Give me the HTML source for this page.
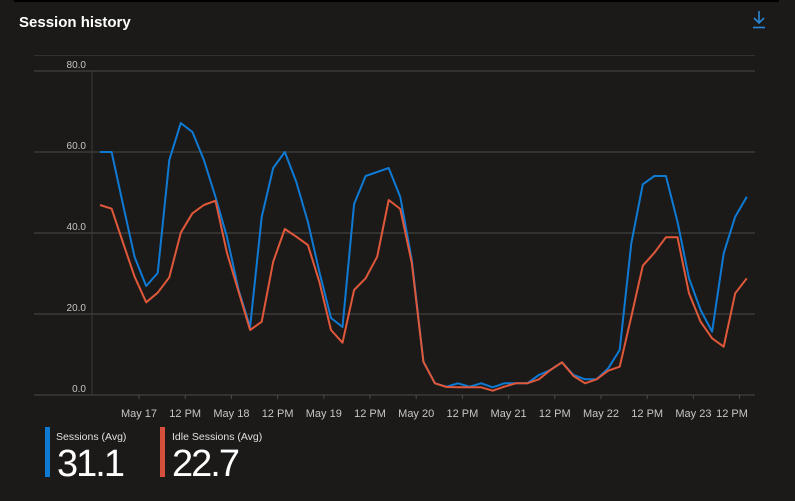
<!DOCTYPE html>
<html><head><meta charset="utf-8"><style>
html,body{margin:0;padding:0;background:#1b1a19;width:795px;height:501px;overflow:hidden}
svg{display:block}
text{font-family:"Liberation Sans",sans-serif}
</style></head><body>
<svg width="795" height="501" viewBox="0 0 795 501">
<rect width="795" height="501" fill="#1b1a19"/>
<rect x="14" y="0" width="765" height="2" fill="#000"/>
<text x="19" y="27" font-size="15" font-weight="bold" fill="#ffffff">Session history</text>
<g stroke="#2b88d8" stroke-width="1.6" fill="none">
<line x1="759" y1="11" x2="759" y2="23"/>
<polyline points="754,18 759,23 764,18"/>
<line x1="753" y1="27.5" x2="765" y2="27.5"/>
</g>
<g stroke="#3b3a39" stroke-width="1">
<line x1="34" y1="55.5" x2="755" y2="55.5" stroke="#323130"/>
<line x1="34" y1="71" x2="755" y2="71" stroke-width="1.4"/>
<line x1="34" y1="152" x2="755" y2="152" stroke-width="1.4"/>
<line x1="34" y1="233" x2="755" y2="233" stroke-width="1.4"/>
<line x1="34" y1="314" x2="755" y2="314" stroke-width="1.4"/>
<line x1="92" y1="71" x2="92" y2="395"/>
<line x1="34" y1="395" x2="755" y2="395" stroke-width="1.6"/>
</g>
<g stroke="#4a4948" stroke-width="1">
<line x1="139" y1="395" x2="139" y2="399"/><line x1="185.2" y1="395" x2="185.2" y2="399"/><line x1="231.4" y1="395" x2="231.4" y2="399"/><line x1="277.6" y1="395" x2="277.6" y2="399"/><line x1="323.8" y1="395" x2="323.8" y2="399"/><line x1="370" y1="395" x2="370" y2="399"/><line x1="416.2" y1="395" x2="416.2" y2="399"/><line x1="462.4" y1="395" x2="462.4" y2="399"/><line x1="508.6" y1="395" x2="508.6" y2="399"/><line x1="554.8" y1="395" x2="554.8" y2="399"/><line x1="601" y1="395" x2="601" y2="399"/><line x1="647.2" y1="395" x2="647.2" y2="399"/><line x1="693.4" y1="395" x2="693.4" y2="399"/><line x1="739.6" y1="395" x2="739.6" y2="399"/>
</g>
<g font-size="10" fill="#c8c6c4" text-anchor="end">
<text x="86" y="68">80.0</text>
<text x="86" y="149">60.0</text>
<text x="86" y="230">40.0</text>
<text x="86" y="311">20.0</text>
<text x="86" y="392">0.0</text>
</g>
<g font-size="11" fill="#c8c6c4" text-anchor="middle">
<text x="139" y="417">May 17</text><text x="185.2" y="417">12 PM</text><text x="231.4" y="417">May 18</text><text x="277.6" y="417">12 PM</text><text x="323.8" y="417">May 19</text><text x="370" y="417">12 PM</text><text x="416.2" y="417">May 20</text><text x="462.4" y="417">12 PM</text><text x="508.6" y="417">May 21</text><text x="554.8" y="417">12 PM</text><text x="601" y="417">May 22</text><text x="647.2" y="417">12 PM</text><text x="693.4" y="417">May 23</text><text x="732" y="417">12 PM</text>
</g>
<polyline fill="none" stroke="#0f7ad4" stroke-width="2" stroke-linejoin="round" points="100,152 111.6,152 123.1,205 134.6,257 146.2,286 157.7,273 169.3,160 180.8,123 192.4,132 203.9,160 215.5,197 227,237 238.6,290 250.1,327 261.7,217 273.2,168 284.8,152 296.3,182 307.9,222 319.4,272 331,318 342.5,327 354.1,204 365.6,176 377.2,172 388.7,168 400.3,197 411.8,260 423.4,361.7 434.9,383.3 446.5,386.7 458,383.3 469.6,386.7 481.1,383.3 492.7,387.3 504.2,383.3 515.8,383.3 527.3,383.3 538.9,375 550.4,370 562,362.3 573.5,375 585.1,379.3 596.6,379.3 608.2,368.3 619.7,350 631.3,243.3 642.8,184.3 654.4,176 665.9,176 677.5,221.7 689,278.3 700.6,310 712.1,331.7 723.7,253.3 735.2,216.7 746.8,196.7"/>
<polyline fill="none" stroke="#e0583a" stroke-width="2" stroke-linejoin="round" points="100,205 111.6,208.7 123.1,243 134.6,276.7 146.2,302.3 157.7,292.7 169.3,277.3 180.8,232.7 192.4,213.3 203.9,205 215.5,200.7 227,253 238.6,291.7 250.1,330 261.7,321.7 273.2,261.7 284.8,229 296.3,236.7 307.9,245 319.4,282 331,330 342.5,342.7 354.1,290 365.6,278.3 377.2,256.7 388.7,200 400.3,209 411.8,263 423.4,361.7 434.9,383.3 446.5,387 458,387.3 469.6,387.3 481.1,387.3 492.7,390.7 504.2,386.7 515.8,383.3 527.3,383.3 538.9,379.3 550.4,370 562,362.3 573.5,376 585.1,383.3 596.6,379.3 608.2,370.7 619.7,366.7 631.3,316.7 642.8,265.7 654.4,252.7 665.9,237.3 677.5,237.3 689,293.3 700.6,321.7 712.1,338.3 723.7,346.7 735.2,293.3 746.8,278.3"/>
<rect x="45" y="427" width="5" height="50" fill="#0f7ad4"/>
<rect x="160" y="427" width="5" height="50" fill="#d4503a"/>
<text x="56" y="440" font-size="10.5" fill="#e1dfdd">Sessions (Avg)</text>
<text x="172" y="440" font-size="10.5" fill="#e1dfdd">Idle Sessions (Avg)</text>
<text x="57" y="476" font-size="38" fill="#ffffff" letter-spacing="-2">31.1</text>
<text x="172" y="476" font-size="38" fill="#ffffff" letter-spacing="-2">22.7</text>
</svg>
</body></html>
